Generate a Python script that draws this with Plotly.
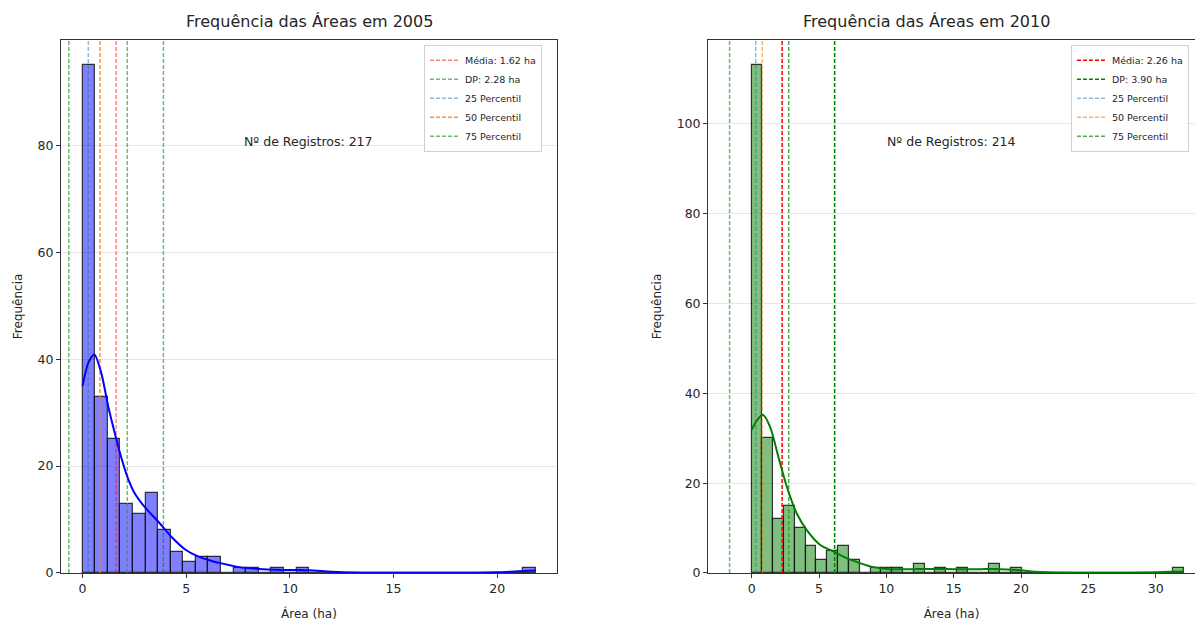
import plotly.graph_objects as go

# ---------------- data ----------------
years = ["2005", "2010"]

# histogram 2005 (36 equal bins from min to max)
area_min_2005 = 0.0
area_max_2005 = 21.86
counts_2005 = [95, 33, 25, 13, 11, 15, 8, 4, 2, 3, 3, 0, 1, 1, 0, 1, 0, 1,
               0, 0, 0, 0, 0, 0, 0, 0, 0, 0, 0, 0, 0, 0, 0, 0, 0, 1]

# histogram 2010 (40 equal bins from min to max)
area_min_2010 = 0.0
area_max_2010 = 32.1
counts_2010 = [113, 30, 12, 15, 10, 6, 3, 5, 6, 3, 0, 1, 1, 1, 0, 2, 0, 1, 0, 1,
               0, 0, 2, 0, 1, 0, 0, 0, 0, 0, 0, 0, 0, 0, 0, 0, 0, 0, 0, 1]

# KDE curves (scaled to counts)
kde_x_2005 = [0, 0.3, 0.57, 0.9, 1.25, 1.6, 1.9, 2.2, 2.5, 2.8, 3.1, 3.7, 4.33,
              4.95, 5.57, 6.19, 6.81, 7.69, 8.5, 9.3, 10.2, 10.9, 12, 13, 15, 17,
              19, 20, 21, 21.86]
kde_y_2005 = [35, 39.5, 40.9, 37.5, 31, 25.5, 21.2, 17.6, 15.0, 13.3, 11.9, 9.4, 6.6,
              4.4, 3.1, 2.3, 1.7, 1.0, 0.75, 0.6, 0.55, 0.5, 0.25, 0.1, 0.03, 0.02,
              0.05, 0.12, 0.3, 0.45]

kde_x_2010 = [0, 0.4, 0.82, 1.36, 1.98, 2.6, 3.34, 4.08, 5.07, 6.06, 7.05, 8.04,
              9.03, 10, 11, 12, 13, 14, 15, 16, 17, 18, 19, 20, 21, 22, 24, 26, 28,
              30, 31, 32.1]
kde_y_2010 = [31.9, 34, 35.2, 32.6, 25.9, 19.3, 13.3, 9.6, 6.3, 4.8, 3.3, 2.2,
              1.3, 0.9, 0.85, 0.85, 0.9, 0.9, 0.85, 0.85, 0.85, 0.9, 0.8, 0.6, 0.3,
              0.15, 0.05, 0.03, 0.05, 0.15, 0.3, 0.35]

# summary statistics
mean_2005, sd_2005 = 1.62, 2.28
p25_2005, p50_2005, p75_2005 = 0.28, 0.84, 2.16
mean_2010, sd_2010 = 2.26, 3.90
p25_2010, p50_2010, p75_2010 = 0.30, 0.79, 2.75
n_2005, n_2010 = 217, 214

# ---------------- figure ----------------
FONT = "DejaVu Sans"
TXT = "#262626"
DASH = "4px,2px"

fig = go.Figure()


def add_panel(sfx, legend_name, amin, amax, counts, kx, ky, mean, sd,
              p25, p50, p75, bar_fill, kde_color, ytop, styles):
    nb = len(counts)
    w = (amax - amin) / nb
    centers = [amin + (i + 0.5) * w for i in range(nb)]
    xa, ya = "x" + sfx, "y" + sfx
    fig.add_trace(go.Bar(
        x=centers, y=counts, width=w, xaxis=xa, yaxis=ya,
        marker=dict(color=bar_fill, line=dict(color="rgba(20,20,20,0.85)", width=1.2)),
        showlegend=False, hoverinfo="skip"))

    lines = [
        (mean, f"Média: {mean:.2f} ha", styles["mean"], True),
        (mean + sd, f"DP: {sd:.2f} ha", styles["sd_hi"], True),
        (mean - sd, None, styles["sd_lo"], False),
        (p25, "25 Percentil", styles["p25"], True),
        (p50, "50 Percentil", styles["p50"], True),
        (p75, "75 Percentil", styles["p75"], True),
    ]
    for val, name, col, show in lines:
        fig.add_trace(go.Scatter(
            x=[val, val], y=[0, ytop], mode="lines", xaxis=xa, yaxis=ya,
            name=name, showlegend=show, legend=legend_name,
            line=dict(color=col, width=1.5, dash=DASH), hoverinfo="skip"))

    fig.add_trace(go.Scatter(
        x=kx, y=ky, mode="lines", xaxis=xa, yaxis=ya, showlegend=False,
        line=dict(color=kde_color, width=2, shape="spline", smoothing=0.8),
        hoverinfo="skip"))


ytop_2005 = max(counts_2005) * 1.05
ytop_2010 = max(counts_2010) * 1.05

styles_2005 = dict(mean="rgba(255,0,0,0.5)", sd_hi="rgba(0,128,0,0.55)",
                   sd_lo="rgba(44,160,44,0.7)", p25="rgba(31,119,180,0.5)",
                   p50="rgba(255,127,14,0.85)", p75="rgba(44,160,44,0.7)")
styles_2010 = dict(mean="rgb(255,0,0)", sd_hi="rgb(0,128,0)",
                   sd_lo="rgba(44,160,44,0.7)", p25="rgba(31,119,180,0.5)",
                   p50="rgba(255,127,14,0.6)", p75="rgba(44,160,44,0.85)")

add_panel("", "legend", area_min_2005, area_max_2005, counts_2005, kde_x_2005, kde_y_2005,
          mean_2005, sd_2005, p25_2005, p50_2005, p75_2005,
          "rgba(0,0,255,0.5)", "rgb(0,0,255)", ytop_2005, styles_2005)
add_panel("2", "legend2", area_min_2010, area_max_2010, counts_2010, kde_x_2010, kde_y_2010,
          mean_2010, sd_2010, p25_2010, p50_2010, p75_2010,
          "rgba(0,128,0,0.5)", "rgb(0,128,0)", ytop_2010, styles_2010)

xr1 = [-1.04, 22.88]
xr2 = [-3.24, 32.92]

axis_common = dict(showline=True, linecolor="#333", linewidth=1, ticks="outside",
                   ticklen=4, tickcolor="#333", zeroline=False, automargin=False,
                   tickfont=dict(family=FONT, size=12.5, color=TXT))

fig.update_layout(
    width=1195, height=623,
    margin=dict(l=0, r=0, t=0, b=0),
    paper_bgcolor="white", plot_bgcolor="white",
    font=dict(family=FONT, color=TXT),
    bargap=0,
    xaxis=dict(domain=[0.051, 0.4661], range=xr1, dtick=5, showgrid=False, mirror=True,
               title=dict(text="Área (ha)", font=dict(size=12, family=FONT, color=TXT), standoff=14),
               anchor="y", **axis_common),
    yaxis=dict(domain=[0.0803, 0.9358], range=[0, ytop_2005], dtick=20, showgrid=True,
               gridcolor="#e6e6e6", gridwidth=1, mirror=True,
               title=dict(text="Frequência", font=dict(size=12, family=FONT, color=TXT), standoff=12),
               anchor="x", **axis_common),
    xaxis2=dict(domain=[0.5925, 1.0], range=xr2, dtick=5, showgrid=False, mirror=True,
                title=dict(text="Área (ha)", font=dict(size=12, family=FONT, color=TXT), standoff=14),
                anchor="y2", **axis_common),
    yaxis2=dict(domain=[0.0803, 0.9358], range=[0, ytop_2010], dtick=20, showgrid=True,
                gridcolor="#e6e6e6", gridwidth=1, mirror=False,
                title=dict(text="Frequência", font=dict(size=12, family=FONT, color=TXT), standoff=12),
                anchor="x2", **axis_common),
    legend=dict(x=0.3548, y=0.928, xanchor="left", yanchor="top",
                bgcolor="rgba(255,255,255,0.85)", bordercolor="#d0d0d0", borderwidth=1,
                font=dict(family=FONT, size=9.5, color=TXT), tracegroupgap=0,
                itemwidth=30, traceorder="normal"),
    legend2=dict(x=0.8962, y=0.928, xanchor="left", yanchor="top",
                 bgcolor="rgba(255,255,255,0.85)", bordercolor="#d0d0d0", borderwidth=1,
                 font=dict(family=FONT, size=9.5, color=TXT), tracegroupgap=0,
                 itemwidth=30, traceorder="normal"),
)

annotations = [
    dict(text=f"Frequência das Áreas em {years[0]}", xref="paper", yref="paper",
         x=0.2586, y=0.9647, xanchor="center", yanchor="middle", showarrow=False,
         font=dict(size=16, family=FONT, color=TXT)),
    dict(text=f"Frequência das Áreas em {years[1]}", xref="paper", yref="paper",
         x=0.7757, y=0.9647, xanchor="center", yanchor="middle", showarrow=False,
         font=dict(size=16, family=FONT, color=TXT)),
    dict(text=f"Nº de Registros: {n_2005}", xref="x", yref="y",
         x=(xr1[0] + xr1[1]) / 2, y=max(counts_2005) * 0.85, showarrow=False,
         font=dict(size=12.5, family=FONT, color=TXT)),
    dict(text=f"Nº de Registros: {n_2010}", xref="x2", yref="y2",
         x=(xr2[0] + xr2[1]) / 2, y=max(counts_2010) * 0.85, showarrow=False,
         font=dict(size=12.5, family=FONT, color=TXT)),
]
fig.update_layout(annotations=annotations)

fig.write_html("out.html", config={"displayModeBar": False},
               post_script="document.body.style.margin='0';")
